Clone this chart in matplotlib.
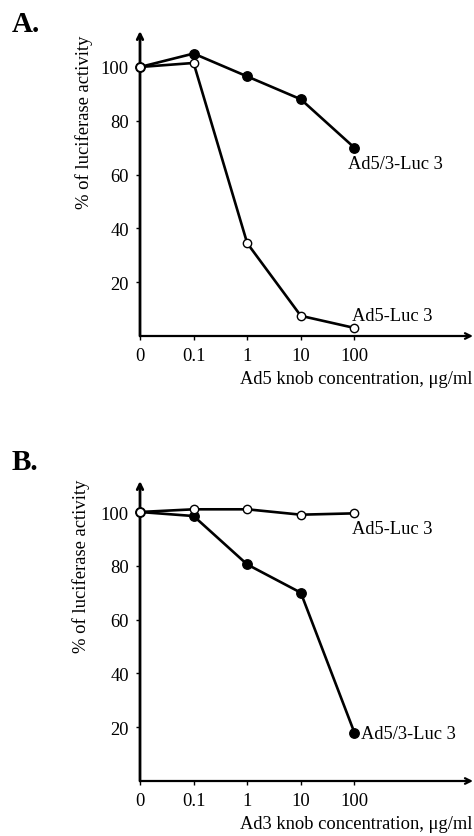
import matplotlib.pyplot as plt
import numpy as np

plt.rcParams['font.family'] = ['Liberation Serif', 'DejaVu Serif']

# x categories (evenly spaced on the plot)
conc_labels = ['0', '0.1', '1', '10', '100']
y_ticks = [20, 40, 60, 80, 100]

# panel A: Ad5 knob competition
a_ad53 = [100, 105, 96.5, 88, 70]
a_ad5 = [100, 101.5, 34.5, 7.5, 3]

# panel B: Ad3 knob competition
b_ad5 = [100, 101, 101, 99, 99.5]
b_ad53 = [100, 98.5, 80.5, 70, 18]

W, H = 474, 837
fig = plt.figure(figsize=(W / 100, H / 100), dpi=100)

FS = 13.3
x = np.arange(len(conc_labels))


def panel(y0_px, top_px, xlabel, letter, letter_y, ylab_xy, s_open, s_fill, lab_open, lab_fill):
    # y0_px: pixel row of y=0 (x-axis), top_px: pixel row of arrow tip
    left, right = 140, 473
    ax = fig.add_axes([left / W, (H - y0_px) / H, (right - left) / W, (y0_px - top_px) / H])
    ax.set_xlim(0, (right - left) / 53.6)
    ax.set_ylim(0, (y0_px - top_px) / 2.69)
    for s in ax.spines.values():
        s.set_visible(False)
    # axes drawn as arrows
    ax.annotate('', xy=(1, 0), xytext=(0, 0), xycoords='axes fraction',
                arrowprops=dict(arrowstyle='->', lw=1.6, color='black', shrinkA=0, shrinkB=0))
    ax.annotate('', xy=(0, 1), xytext=(0, 0), xycoords='axes fraction',
                arrowprops=dict(arrowstyle='->', lw=2.0, color='black', shrinkA=0, shrinkB=0))
    ax.set_xticks(x)
    ax.set_xticklabels(conc_labels, fontsize=FS)
    ax.set_yticks(y_ticks)
    ax.set_yticklabels([str(v) for v in y_ticks], fontsize=FS)
    ax.tick_params(axis='both', direction='out', length=3, width=1, pad=5)
    ax.set_ylabel('% of luciferase activity', fontsize=13.4)
    ax.yaxis.set_label_coords(*ylab_xy)
    ax.set_xlabel(xlabel, fontsize=FS, loc='right', labelpad=4)

    ax.plot(x, s_fill, '-o', color='black', lw=1.9, ms=6.8, mfc='black', mec='black', clip_on=False, zorder=3)
    ax.plot(x, s_open, '-o', color='black', lw=1.9, ms=6, mfc='white', mec='black', mew=1.0, clip_on=False, zorder=4)

    for (xx, yy, txt) in [lab_open, lab_fill]:
        ax.text(xx, yy, txt, fontsize=FS, ha='left', va='center')

    fig.text(12 / W, 1 - letter_y / H, letter, fontsize=21, fontweight='bold', va='center', ha='left')
    return ax


panel(337, 32, 'Ad5 knob concentration, μg/ml', 'A.', 25, (-0.142, 0.705),
      a_ad5, a_ad53,
      (3.95, 7.5, 'Ad5-Luc 3'), (3.88, 64, 'Ad5/3-Luc 3'))
panel(782, 482, 'Ad3 knob concentration, μg/ml', 'B.', 463, (-0.15, 0.72),
      b_ad5, b_ad53,
      (3.95, 93.7, 'Ad5-Luc 3'), (4.12, 17.5, 'Ad5/3-Luc 3'))

fig.savefig('out.png', dpi=100, facecolor='white')
